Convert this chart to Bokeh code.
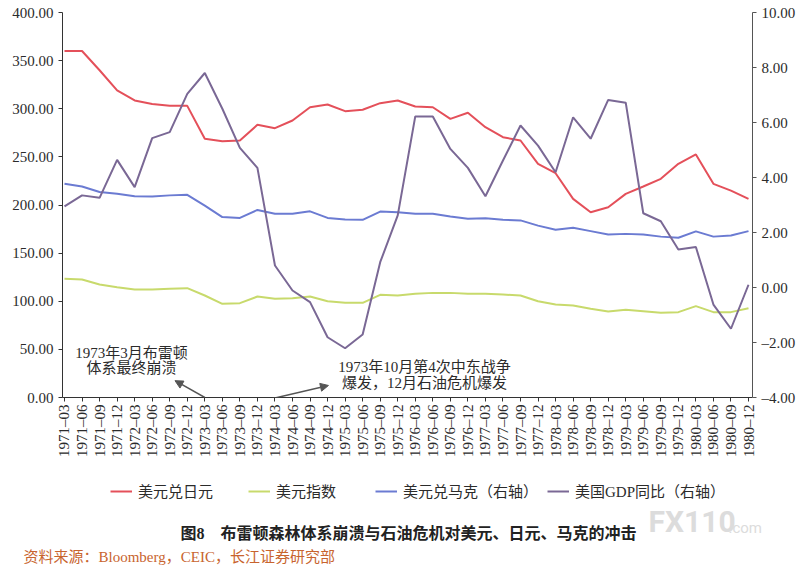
import math
from bokeh.plotting import figure
from bokeh.layouts import column
from bokeh.models import (Range1d, LinearAxis, FixedTicker, Label, Legend,
                          LegendItem, Arrow, NormalHead)
from bokeh.embed import file_html
from bokeh.resources import INLINE

quarters = ["1971–03", "1971–06", "1971–09", "1971–12",
            "1972–03", "1972–06", "1972–09", "1972–12",
            "1973–03", "1973–06", "1973–09", "1973–12",
            "1974–03", "1974–06", "1974–09", "1974–12",
            "1975–03", "1975–06", "1975–09", "1975–12",
            "1976–03", "1976–06", "1976–09", "1976–12",
            "1977–03", "1977–06", "1977–09", "1977–12",
            "1978–03", "1978–06", "1978–09", "1978–12",
            "1979–03", "1979–06", "1979–09", "1979–12",
            "1980–03", "1980–06", "1980–09", "1980–12"]

usd_jpy = [360, 360, 340, 319, 308.6, 305, 303, 303,
           268.8, 266.3, 267, 283.3, 279.8, 287.8, 301.6, 304.4,
           297.5, 298.9, 305.8, 308.6, 302.3, 301.6, 289.5, 295.8,
           280.8, 270.4, 267, 242.8, 233, 206.4, 192.5, 197.7,
           211.6, 219.2, 227.2, 242.8, 252.5, 222, 215, 206.4]

usd_index = [123.3, 122.6, 117.4, 114.6, 112.2, 112.2, 112.9, 113.6,
             106, 97.3, 98, 104.9, 102.5, 103.2, 104.9, 100,
             98.4, 98.4, 106.7, 106, 107.7, 108.7, 108.7, 107.7,
             107.7, 107, 106, 100, 96.6, 95.6, 92.1, 89.4,
             91.1, 89.7, 88, 88.7, 94.9, 88.7, 88.7, 92.8]

usd_dem = [3.77, 3.67, 3.47, 3.41, 3.32, 3.31, 3.35, 3.37,
           2.98, 2.56, 2.53, 2.82, 2.68, 2.68, 2.77, 2.53,
           2.47, 2.46, 2.76, 2.74, 2.68, 2.68, 2.58, 2.50,
           2.52, 2.46, 2.44, 2.25, 2.10, 2.17, 2.05, 1.93,
           1.95, 1.93, 1.85, 1.81, 2.04, 1.85, 1.89, 2.05]

us_gdp = [2.95, 3.35, 3.26, 4.64, 3.65, 5.43, 5.65, 7.04,
          7.80, 6.50, 5.08, 4.35, 0.80, -0.11, -0.53, -1.81,
          -2.21, -1.71, 0.92, 2.62, 6.22, 6.22, 5.04, 4.35,
          3.32, 4.62, 5.89, 5.16, 4.19, 6.19, 5.41, 6.82,
          6.72, 2.70, 2.41, 1.38, 1.47, -0.62, -1.50, 0.10]

left_ticks = [0, 50, 100, 150, 200, 250, 300, 350, 400]
left_labels = ["0.00", "50.00", "100.00", "150.00", "200.00", "250.00",
               "300.00", "350.00", "400.00"]
right_ticks = [-4, -2, 0, 2, 4, 6, 8, 10]
right_labels = ["–4.00", "–2.00", "0.00", "2.00", "4.00", "6.00", "8.00", "10.00"]

series_names = ["美元兑日元", "美元指数", "美元兑马克（右轴）", "美国GDP同比（右轴）"]
colors = ["#E4505A", "#C8DA6C", "#6B7BD2", "#7A6895"]

SERIF = "Liberation Serif, Noto Sans CJK SC"
TXT = "#2b2b2b"

xs = list(range(len(quarters)))

W = 801
H1 = 470
H2 = 95

p = figure(width=W, height=H1, output_backend="svg", toolbar_location=None,
           x_range=Range1d(-0.114, 39.228), y_range=Range1d(0, 400),
           min_border_left=62, min_border_right=W - 752, min_border_top=12,
           min_border_bottom=H1 - 397)
p.frame_align = False
p.extra_y_ranges = {"gdp": Range1d(-4, 10)}
p.grid.visible = False
p.outline_line_color = None
p.background_fill_color = "white"
p.border_fill_color = "white"

# x axis
xa = p.xaxis[0]
xa.ticker = FixedTicker(ticks=xs)
xa.major_label_overrides = {i: q for i, q in zip(xs, quarters)}
xa.major_label_orientation = math.pi / 2
xa.major_tick_in = 0
xa.major_tick_out = 4
xa.minor_tick_line_color = None
xa.axis_line_color = "#333333"
xa.major_tick_line_color = "#333333"
xa.major_label_standoff = 3
xa.major_label_text_font = SERIF
xa.major_label_text_font_size = "15px"
xa.major_label_text_color = TXT

# left axis
ya = p.yaxis[0]
ya.ticker = FixedTicker(ticks=left_ticks)
ya.major_label_overrides = {t: l for t, l in zip(left_ticks, left_labels)}
ya.major_tick_in = 0
ya.major_tick_out = 4
ya.minor_tick_line_color = None
ya.axis_line_color = "#333333"
ya.major_tick_line_color = "#333333"
ya.major_label_standoff = 5
ya.major_label_text_font = SERIF
ya.major_label_text_font_size = "15px"
ya.major_label_text_color = TXT

# right axis
ra = LinearAxis(y_range_name="gdp", ticker=FixedTicker(ticks=right_ticks))
ra.major_label_overrides = {t: l for t, l in zip(right_ticks, right_labels)}
ra.major_tick_in = 0
ra.major_tick_out = 4
ra.minor_tick_line_color = None
ra.axis_line_color = "#555555"
ra.major_tick_line_color = "#555555"
ra.major_label_standoff = 5
ra.major_label_text_font = SERIF
ra.major_label_text_font_size = "15px"
ra.major_label_text_color = TXT
p.add_layout(ra, "right")

p.line(xs, usd_jpy, line_color=colors[0], line_width=2)
p.line(xs, usd_index, line_color=colors[1], line_width=2)
p.line(xs, usd_dem, line_color=colors[2], line_width=2, y_range_name="gdp")
p.line(xs, us_gdp, line_color=colors[3], line_width=2, y_range_name="gdp")


def lab(fig, text, sx, sy, size="15px", align="left", color=TXT,
        style="normal", font=SERIF):
    fig.add_layout(Label(x=sx, y=sy, x_units="screen", y_units="screen",
                         text=text, text_font=font, text_font_size=size,
                         text_color=color, text_align=align,
                         text_baseline="middle", text_font_style=style))


# annotations (screen units relative to the frame's bottom-left)
lab(p, "1973年3月布雷顿", 69, 45, align="center")
lab(p, "体系最终崩溃", 69, 30, align="center")
lab(p, "1973年10月第4次中东战争", 362, 31, align="center")
lab(p, "爆发，12月石油危机爆发", 362, 15, align="center")

head_kw = dict(size=8, fill_color="#555555", line_color="#555555")
p.add_layout(Arrow(end=NormalHead(**head_kw), x_start=8, y_start=0,
                   x_end=6.3, y_end=17.5, line_color="#555555", line_width=1.5))
p.add_layout(Arrow(end=NormalHead(**head_kw), x_start=10.9, y_start=-5.2,
                   x_end=15.05, y_end=12.5, line_color="#555555", line_width=1.5))

# lower panel: legend, caption, source (its frame covers the whole panel)
p2 = figure(width=W, height=H2, output_backend="svg", toolbar_location=None,
            x_axis_location=None, y_axis_location=None, min_border=0,
            x_range=Range1d(1000, 1001), y_range=Range1d(0, 1))
p2.frame_align = False
p2.grid.visible = False
p2.outline_line_color = None
p2.background_fill_color = "white"
p2.border_fill_color = "white"

# same series drawn here (outside the visible range) only to supply legend glyphs
g1 = p2.line(xs, usd_jpy, line_color=colors[0], line_width=2)
g2 = p2.line(xs, usd_index, line_color=colors[1], line_width=2)
g3 = p2.line(xs, usd_dem, line_color=colors[2], line_width=2)
g4 = p2.line(xs, us_gdp, line_color=colors[3], line_width=2)

for r, name, px in zip([g1, g2, g3, g4], series_names, [110, 248, 375, 547]):
    leg = Legend(items=[LegendItem(label=name, renderers=[r])],
                 location=(px, 64),
                 orientation="horizontal", padding=0, margin=0, spacing=0,
                 border_line_color=None, background_fill_alpha=0,
                 glyph_width=22, glyph_height=16, label_height=16,
                 label_standoff=6, label_text_font=SERIF,
                 label_text_font_size="15px", label_text_color=TXT)
    p2.add_layout(leg)

lab(p2, "图8　布雷顿森林体系崩溃与石油危机对美元、日元、马克的冲击", 408, 32,
    size="16px", align="center", style="bold", color="#222222")
lab(p2, "资料来源：Bloomberg，CEIC，长江证券研究部", 23, 9, size="15px",
    color="#C8642E")
lab(p2, "FX110", 648, 44, size="30px", style="bold", color="#DCDCDC",
    font="Roboto")
lab(p2, ".com", 728, 38, size="15px", color="#DCDCDC", font="Roboto")

layout = column(p, p2, spacing=0)
open("out.html", "w").write(file_html(layout, INLINE))
